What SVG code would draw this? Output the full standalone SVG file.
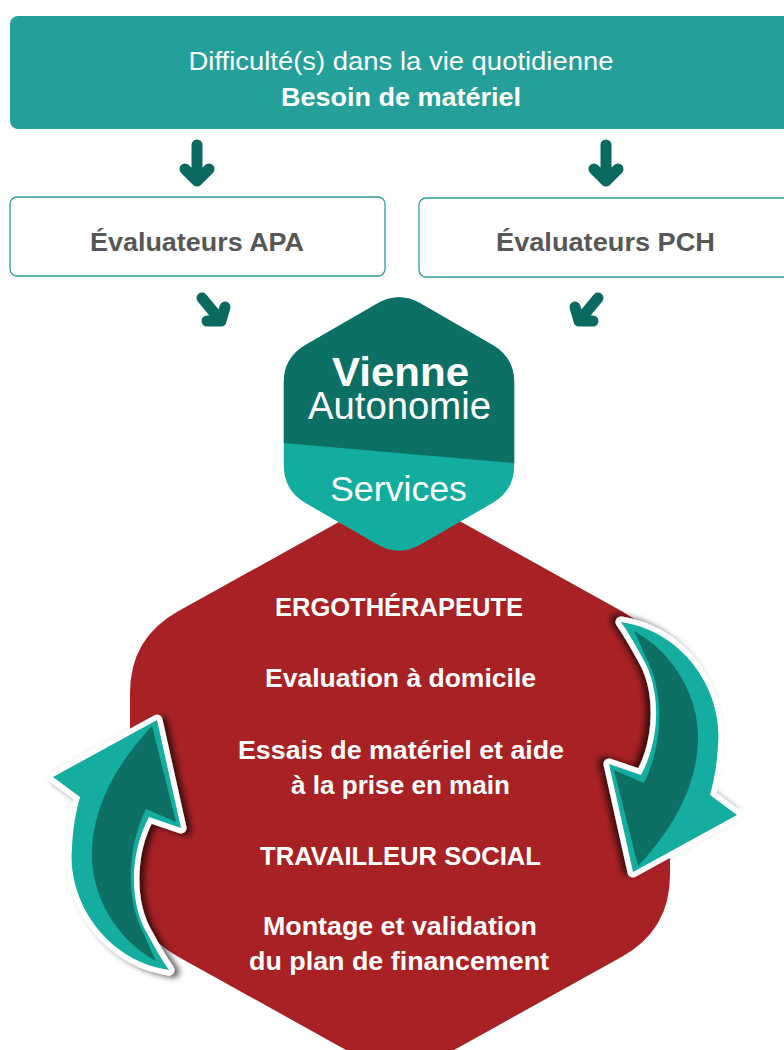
<svg xmlns="http://www.w3.org/2000/svg" width="784" height="1050" viewBox="0 0 784 1050">
<defs>
<style>
.t{font-family:"Liberation Sans",Arial,sans-serif}
.b{font-weight:bold}
.arw{fill:none;stroke:#0b6a5f;stroke-width:11;stroke-linecap:round;stroke-linejoin:round}
.box{fill:#fff;stroke:#2a9f98;stroke-width:1.3}
.ev{font-size:25.5px;fill:#575757;font-weight:bold}
.rt{font-size:26px;font-weight:bold;fill:#fff}
</style>
<filter id="sh" x="-40%" y="-40%" width="180%" height="180%">
<feGaussianBlur in="SourceAlpha" stdDeviation="3"/>
<feOffset dx="-5" dy="-2" result="o"/>
<feComponentTransfer in="o" result="s"><feFuncA type="linear" slope="0.65"/></feComponentTransfer>
<feMerge><feMergeNode in="s"/><feMergeNode in="SourceGraphic"/></feMerge>
</filter>
<path id="hexp" d="M377.35,303.5 Q399,291 420.65,303.5 L492.55,345 Q514.2,357.5 514.2,382.5 L514.2,465.5 Q514.2,490.5 492.55,503 L420.65,544.5 Q399,557 377.35,544.5 L305.45,503 Q283.8,490.5 283.8,465.5 L283.8,382.5 Q283.8,357.5 305.45,345 Z"/>
<clipPath id="hexclip"><use href="#hexp"/></clipPath>
<path id="arrowShape" d="M621,622 L631,624 C684,636 723,690 718,745 C717,765 714,781 710,795 L737,815 L633,872 L609,764 L641,775 C660,740 662,690 642,657 C635,644 628,632 621,622 Z"/>
<g id="carrow">
<use href="#arrowShape" fill="#fff" stroke="#fff" stroke-width="11" stroke-linejoin="round" filter="url(#sh)"/>
<use href="#arrowShape" fill="#14ad9f"/>
<path d="M634,631 C676,654 700,700 698,742 C696,790 670,832 638,866 L614,770 L644,783 C664,742 664,690 646,658 C642,648 638,639 634,631 Z" fill="#0e7064"/>
</g>
</defs>

<rect width="784" height="1050" fill="#fff"/>

<g id="banner">
<rect x="10" y="16" width="790" height="113" rx="8" fill="#249f9a"/>
<text class="t" x="401" y="70" font-size="26" fill="#fff" text-anchor="middle" textLength="425" lengthAdjust="spacingAndGlyphs">Difficulté(s) dans la vie quotidienne</text>
<text class="t b" x="401" y="106" font-size="26" fill="#fff" text-anchor="middle" textLength="240" lengthAdjust="spacingAndGlyphs">Besoin de matériel</text>
</g>

<g id="box-apa">
<rect class="box" x="10" y="197" width="375" height="79" rx="7"/>
<text class="t ev" x="197" y="251" text-anchor="middle" textLength="214" lengthAdjust="spacingAndGlyphs">Évaluateurs APA</text>
</g>

<g id="box-pch">
<rect class="box" x="419" y="198" width="380" height="79" rx="7"/>
<text class="t ev" x="605.5" y="251" text-anchor="middle" textLength="219" lengthAdjust="spacingAndGlyphs">Évaluateurs PCH</text>
</g>

<g id="connectors">
<path class="arw" d="M197,145 V181 M185,169 L197,181 L209,169"/>
<path class="arw" d="M606,145 V181 M594,169 L606,181 L618,169"/>
<path class="arw" stroke-width="10" d="M202,298 L221,321 M207,321 H221 L225,307"/>
<path class="arw" stroke-width="10" d="M598,298 L579,321 M593,321 H579 L575,307"/>
</g>

<g id="services">
<path d="M400,488 L621.9,611.3 Q670,638 670,693 L670,875 Q670,930 621.9,956.7 L400,1080 L178.1,956.7 Q130,930 130,875 L130,693 Q130,638 178.1,611.3 Z" fill="#a72125"/>
<text class="t rt" x="399" y="616" text-anchor="middle" textLength="248" lengthAdjust="spacingAndGlyphs">ERGOTHÉRAPEUTE</text>
<text class="t rt" x="400.5" y="687" text-anchor="middle" textLength="271" lengthAdjust="spacingAndGlyphs">Evaluation à domicile</text>
<text class="t rt" x="401" y="759" text-anchor="middle" textLength="326" lengthAdjust="spacingAndGlyphs">Essais de matériel et aide</text>
<text class="t rt" x="400.5" y="794" text-anchor="middle" textLength="219" lengthAdjust="spacingAndGlyphs">à la prise en main</text>
<text class="t rt" x="400.5" y="865" text-anchor="middle" textLength="281" lengthAdjust="spacingAndGlyphs">TRAVAILLEUR SOCIAL</text>
<text class="t rt" x="400" y="935" text-anchor="middle" textLength="274" lengthAdjust="spacingAndGlyphs">Montage et validation</text>
<text class="t rt" x="399" y="970" text-anchor="middle" textLength="300" lengthAdjust="spacingAndGlyphs">du plan de financement</text>
</g>

<g id="logo">
<use href="#hexp" fill="#13ada0"/>
<polygon points="270,280 530,280 530,464.4 270,441.9" fill="#0d7064" clip-path="url(#hexclip)"/>
<text class="t b" x="400.5" y="386" font-size="40" fill="#fff" text-anchor="middle" textLength="137" lengthAdjust="spacingAndGlyphs">Vienne</text>
<text class="t" x="399.5" y="419" font-size="38" fill="#fff" text-anchor="middle" textLength="183" lengthAdjust="spacingAndGlyphs">Autonomie</text>
<text class="t" x="398.5" y="501" font-size="35" fill="#fff" text-anchor="middle" textLength="137" lengthAdjust="spacingAndGlyphs">Services</text>
</g>

<g id="cycle-arrows">
<use href="#carrow"/>
<use href="#carrow" transform="rotate(180 395 796)"/>
</g>
</svg>
